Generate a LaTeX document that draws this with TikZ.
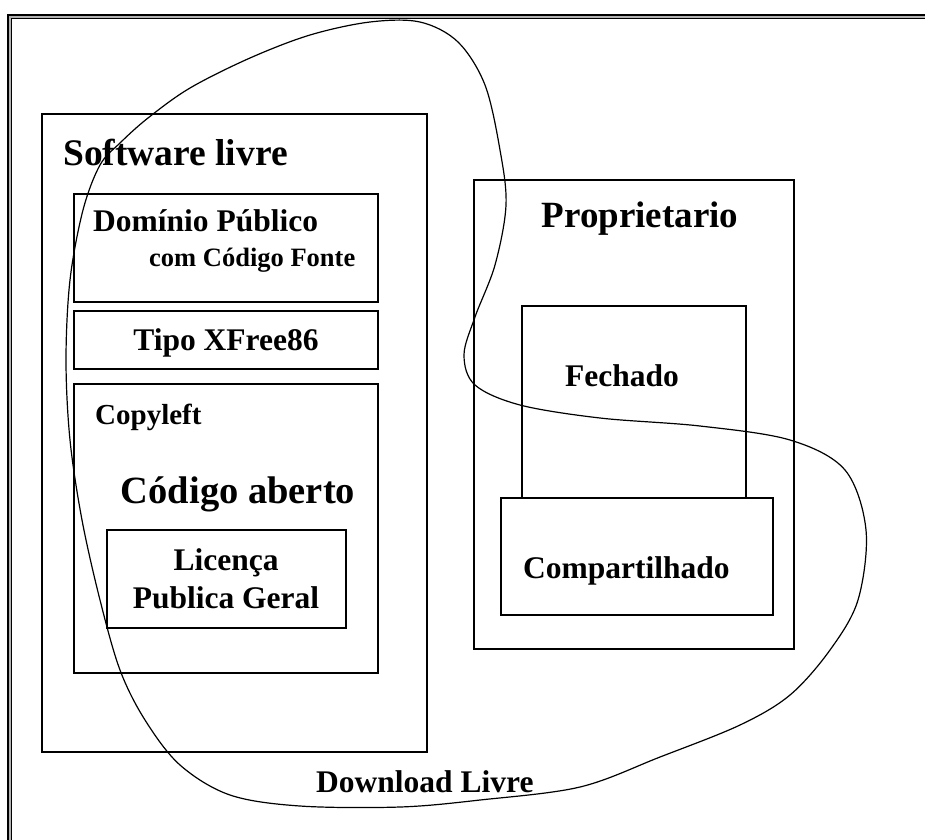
\documentclass[tikz,border=0pt]{standalone}
\usepackage{fontspec}
\setmainfont{Liberation Serif}
\begin{document}
\begin{tikzpicture}[x=1pt,y=-1pt,
  box/.style={draw=black,line width=1.5pt,inner sep=0pt,fill=none},
  lbl/.style={inner sep=0pt,font=\bfseries},
  blob/.style={draw=black,line width=1.2pt}]
\useasboundingbox (0,0) rectangle (925,839);
% outer double frame
\begin{scope}
\clip (0,0) rectangle (925,839);
\draw[line width=4.8pt,black] (9.7,16.5) rectangle (960,880);
\draw[line width=2pt,gray!60] (9.7,16.5) rectangle (960,880);
\end{scope}
% boxes
\node[box,minimum width=385pt,minimum height=638pt] (sl) at (234.5,433) {};
\node[box,minimum width=304pt,minimum height=108pt] (dom) at (226,248) {};
\node[box,minimum width=304pt,minimum height=58pt] (tipo) at (226,340) {};
\node[box,minimum width=304pt,minimum height=289pt] (copy) at (226,528.5) {};
\node[box,minimum width=239pt,minimum height=98pt] (lic) at (226.5,579) {};
\node[box,minimum width=320pt,minimum height=469pt] (prop) at (634,414.5) {};
\node[box,minimum width=224pt,minimum height=192pt] (fech) at (634,402) {};
\node[box,minimum width=272pt,minimum height=117pt] (comp) at (637,556.5) {};
% labels
\node[lbl,anchor=base west,font=\bfseries\fontsize{37.5}{40}\selectfont] (tsl) at (63,165) {Software livre};
\node[lbl,anchor=base west,font=\bfseries\fontsize{31.5}{34}\selectfont] (tdom) at (93,231) {Domínio Público};
\node[lbl,anchor=base west,font=\bfseries\fontsize{26.5}{29}\selectfont] (tcom) at (149,266) {com Código Fonte};
\node[lbl,anchor=base,font=\bfseries\fontsize{31.5}{34}\selectfont] (ttipo) at (226,350) {Tipo XFree86};
\node[lbl,anchor=base west,font=\bfseries\fontsize{29}{32}\selectfont] (tcopy) at (95,424) {Copyleft};
\node[lbl,anchor=base,font=\bfseries\fontsize{38.5}{41}\selectfont] (tcod) at (238,503) {Código aberto};
\node[lbl,anchor=base,font=\bfseries\fontsize{31.5}{34}\selectfont] (tlic1) at (226,570) {Licença};
\node[lbl,anchor=base,font=\bfseries\fontsize{31.5}{34}\selectfont] (tlic2) at (226,608) {Publica Geral};
\node[lbl,anchor=base,font=\bfseries\fontsize{37}{40}\selectfont] (tprop) at (640,227) {Proprietario};
\node[lbl,anchor=base,font=\bfseries\fontsize{31.5}{34}\selectfont] (tfech) at (622,386) {Fechado};
\node[lbl,anchor=base west,font=\bfseries\fontsize{31.5}{34}\selectfont] (tcomp) at (523,578) {Compartilhado};
\node[lbl,anchor=base west,font=\bfseries\fontsize{31.5}{34}\selectfont] (tdl) at (316,792) {Download Livre};
% Download Livre blob
\draw[blob] plot[smooth cycle,tension=0.55] coordinates {
 (83,210) (100,165) (120,143) (148,118) (190,88) (250,58) (310,35) (370,22) (420,22)
 (458,42) (485,85) (500,150) (506,205) (495,265) (475,317) (464,355) (475,385)
 (520,405) (600,418) (700,426) (790,440) (845,470) (866,530) (858,600) (830,650)
 (790,695) (740,725) (660,757) (580,787) (480,800) (400,807) (300,806) (230,795)
 (180,765) (145,720) (120,670) (100,600) (82,520) (70,440) (66,360) (70,280)};
\end{tikzpicture}
\end{document}
